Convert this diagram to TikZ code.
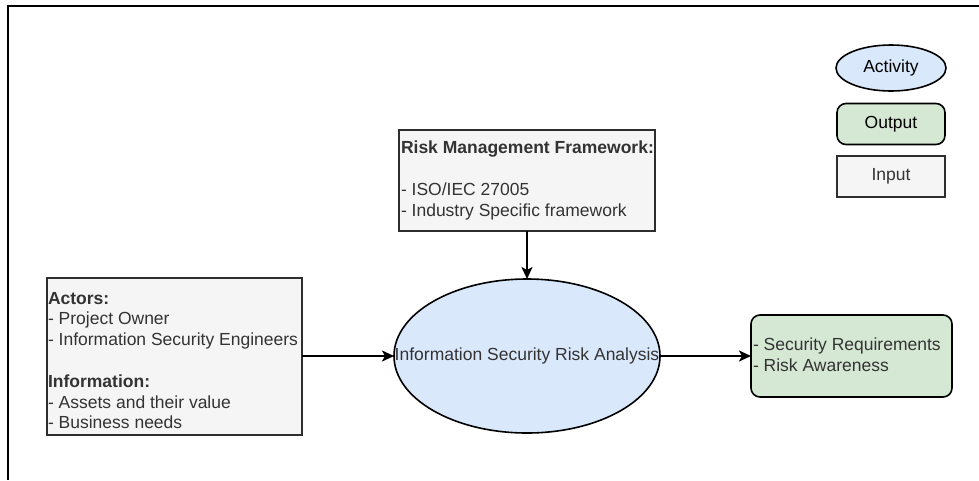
\documentclass[tikz,border=0pt]{standalone}
\usepackage{fontspec}
\setmainfont{Liberation Sans}
\usetikzlibrary{shapes.geometric,arrows.meta}

\definecolor{actfill}{HTML}{DAE8FC}
\definecolor{outfill}{HTML}{D5E8D4}
\definecolor{infill}{HTML}{F5F5F5}
\definecolor{inedge}{HTML}{2E2E2E}
\definecolor{intext}{HTML}{333333}

\tikzset{
  every node/.style={font=\fontsize{17.5}{20.8}\selectfont, inner sep=0pt, outer sep=0pt},
  activity/.style={ellipse, draw=black, line width=1.6pt, fill=actfill},
  outbox/.style={rectangle, rounded corners=9pt, draw=black, line width=1.6pt, fill=outfill},
  inbox/.style={rectangle, draw=inedge, line width=2.4pt, fill=infill, text=intext},
  flow/.style={draw=black, line width=2pt, -{Stealth[length=12pt,width=11pt,inset=3pt]}},
  frameline/.style={draw=black, line width=2pt}
}

\begin{document}
\begin{tikzpicture}[x=1pt,y=-1pt]
\useasboundingbox (0,0) rectangle (979,480);

% page frame (top and left edges)
\draw[frameline] (979,5.5) -| (7.5,480);

% legend
\node[activity, minimum width=110pt, minimum height=46pt] (legact) at (891,68) {Activity};
\node[outbox, minimum width=108pt, minimum height=41pt] (legout) at (891,124) {Output};
\node[inbox, minimum width=108pt, minimum height=41pt] (legin) at (891,176.5) {Input};

% framework input
\node[inbox, minimum width=256pt, minimum height=101pt] (rmf) at (527,180.5) {};
\node[text=intext, anchor=west, align=left] (rmftxt) at ([xshift=2pt]rmf.west)
  {\textbf{Risk Management Framework:}\\[0pt]\strut\\- ISO/IEC 27005\\- Industry Specific framework};

% actors and information input
\node[inbox, minimum width=255pt, minimum height=157pt] (actors) at (174.5,356.5) {};
\node[text=intext, anchor=west, align=left] (actorstxt) at ([xshift=1pt,yshift=-4pt]actors.west)
  {\textbf{Actors:}\\- Project Owner\\- Information Security Engineers\\\strut\\\textbf{Information:}\\- Assets and their value\\- Business needs};

% central activity
\node[activity, minimum width=266pt, minimum height=154pt,
      label={[text=intext]center:Information Security Risk Analysis}] (isra) at (527,356) {};

% output
\node[outbox, minimum width=201pt, minimum height=82pt] (out) at (851.5,356) {};
\node[text=intext, anchor=west, align=left] (outtxt) at ([xshift=2pt,yshift=1.5pt]out.west)
  {- Security Requirements\\- Risk Awareness};

% connectors
\draw[flow] (rmf.south) -- (isra.north);
\draw[flow] (actors.east |- isra.west) -- (isra.west);
\draw[flow] (isra.east) -- (out.west);
\end{tikzpicture}
\end{document}
